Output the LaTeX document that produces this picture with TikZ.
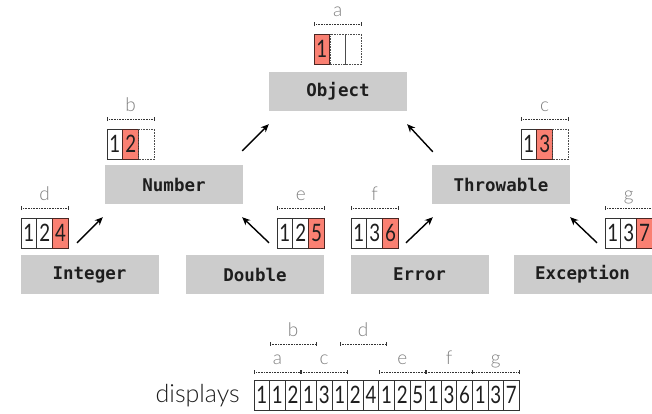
\documentclass[tikz,border=0pt]{standalone}
\usepackage{fontspec}
\usetikzlibrary{arrows.meta,calc}

\newfontfamily\lightsans{Lato Light}
\newfontfamily\narrowdigits{Lato}[FakeStretch=0.78]
\newfontfamily\codefont{DejaVu Sans Mono}

\definecolor{boxgray}{HTML}{CCCCCC}
\definecolor{hilite}{HTML}{FA8072}
\definecolor{labelgray}{HTML}{808080}
\definecolor{inkdark}{HTML}{1E1E1E}

\tikzset{
  classbox/.style={fill=boxgray, minimum width=138, minimum height=39, inner sep=0,
    font=\codefont\bfseries\fontsize{17.5}{17.5}\selectfont, text=inkdark},
  cellbase/.style={minimum width=15.8, minimum height=30.5, inner sep=0, outer sep=0,
    font=\narrowdigits\fontsize{24}{24}\selectfont, text=inkdark},
  plaincell/.style={cellbase, draw=black!80, line width=0.8pt},
  hotcell/.style={cellbase, fill=hilite, draw=black!70!hilite, line width=0.8pt},
  emptycell/.style={cellbase, draw=black!70, densely dotted, line width=0.6pt},
  dispcell/.style={cellbase, minimum width=15.6, minimum height=30, draw=black!80, line width=0.8pt},
  bracket/.style={densely dotted, line width=0.6pt, draw=black!80,
    {Bar[width=4pt,line width=0.6pt]}-{Bar[width=4pt,line width=0.6pt]}},
  tag/.style={inner sep=0, anchor=base, text=labelgray, font=\lightsans\fontsize{19}{19}\selectfont},
  link/.style={line width=1.4pt, -{Stealth[length=8pt,width=7pt]}},
}

% three-slot array with its bracket and letter: name, top-left corner, letter, cells
\newcommand\slottrio[4]{%
  \foreach[count=\k] \s/\d in {#4} {
    \node[\s, anchor=north west] (#1\k) at ($(#2)+({(\k-1)*15.8},0)$) {\d};
  }
  \draw[bracket] ($(#11.north west)+(0,-10)$) coordinate (#1L) -- ($(#13.north east)+(0,-10)$) coordinate (#1R);
  \node[tag] (#1tag) at ($($(#1L)!0.5!(#1R)$)+(0,-8)$) {#3};
}

\begin{document}
\begin{tikzpicture}[x=1pt, y=-1pt]
\useasboundingbox (0,0) rectangle (652,413);

% class hierarchy
\node[classbox] (obj) at (338,91.5)   {Object};
\node[classbox] (num) at (174,184.5)  {Number};
\node[classbox] (thr) at (501,184.5)  {Throwable};
\node[classbox] (int) at (89.5,274.5) {Integer};
\node[classbox] (dbl) at (255,274.5)  {Double};
\node[classbox] (err) at (419.5,274.5){Error};
\node[classbox] (exc) at (582.5,274.5){Exception};

% subclass arrows
\draw[link] ($(int.north)+(-12.5,-12)$) -- ($(num.south west)+(-2,13)$);
\draw[link] ($(dbl.north)+(14,-12)$)    -- ($(num.south east)+(-1,13)$);
\draw[link] ($(err.north)+(-13.5,-12)$) -- ($(thr.south west)+(1,13)$);
\draw[link] ($(exc.north)+(14.5,-12)$)  -- ($(thr.south east)+(0,13)$);
\draw[link] ($(num.north east)+(-1,-14)$) -- ($(obj.south west)+(0,13)$);
\draw[link] ($(thr.north west)+(1,-13)$)  -- ($(obj.south east)+(0,13)$);

% per-class display arrays
\coordinate (pa) at (314,34);
\coordinate (pb) at (107,129);
\coordinate (pc) at (521,129);
\coordinate (pd) at (21,218);
\coordinate (pe) at (277,218);
\coordinate (pf) at (351,218);
\coordinate (pg) at (605,218);
\slottrio{a}{pa}{a}{hotcell/1, emptycell/, emptycell/}
\slottrio{b}{pb}{b}{plaincell/1, hotcell/2, emptycell/}
\slottrio{c}{pc}{c}{plaincell/1, hotcell/3, emptycell/}
\slottrio{d}{pd}{d}{plaincell/1, plaincell/2, hotcell/4}
\slottrio{e}{pe}{e}{plaincell/1, plaincell/2, hotcell/5}
\slottrio{f}{pf}{f}{plaincell/1, plaincell/3, hotcell/6}
\slottrio{g}{pg}{g}{plaincell/1, plaincell/3, hotcell/7}

% shared displays table
\node[inner sep=0, anchor=base east, text=inkdark, font=\lightsans\fontsize{25}{25}\selectfont]
  (disp) at (240,402) {displays};
\foreach[count=\k from 0] \d in {1,1,2,1,3,1,2,4,1,2,5,1,3,6,1,3,7} {
  \node[dispcell, anchor=north west] (s\k) at ({254+\k*15.6},380) {\d};
}

% ranges of each class inside the table
\newcommand\tablerange[4]{%
  \draw[bracket] ($(#1)+(0,#3)$) coordinate (#4L) -- ($(#2)+(0,#3)$) coordinate (#4R);
  \node[tag] (#4tag) at ($($(#4L)!0.5!(#4R)$)+(0,-8)$) {#4};
}
\tablerange{s0.north west}{s2.north east}{-8}{a}
\tablerange{s1.north west}{s3.north east}{-36}{b}
\tablerange{s3.north west}{s5.north east}{-8}{c}
\tablerange{s5.north}{s8.north}{-36}{d}
\tablerange{s8.north west}{s10.north east}{-8}{e}
\tablerange{s11.north west}{s13.north east}{-8}{f}
\tablerange{s14.north west}{s16.north east}{-8}{g}
\end{tikzpicture}
\end{document}
